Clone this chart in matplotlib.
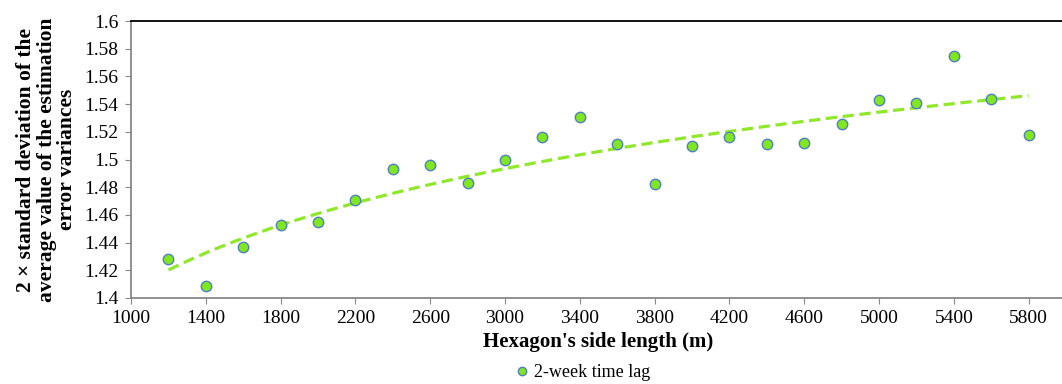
import numpy as np
import matplotlib.pyplot as plt

plt.rcParams['font.family'] = ['Liberation Serif', 'DejaVu Serif']

side_length = [1200, 1400, 1600, 1800, 2000, 2200, 2400, 2600, 2800, 3000, 3200, 3400,
               3600, 3800, 4000, 4200, 4400, 4600, 4800, 5000, 5200, 5400, 5600, 5800]
std_value = [1.428, 1.409, 1.437, 1.453, 1.455, 1.471, 1.493, 1.496, 1.483, 1.500, 1.516, 1.531,
             1.511, 1.482, 1.510, 1.516, 1.511, 1.512, 1.526, 1.543, 1.541, 1.575, 1.544, 1.518]
x_ticks = list(range(1000, 6000, 400))
y_ticks = [1.4, 1.42, 1.44, 1.46, 1.48, 1.5, 1.52, 1.54, 1.56, 1.58, 1.6]

fig = plt.figure(figsize=(10.62, 3.84), dpi=100)
ax = fig.add_axes([0.1234, 0.224, 0.8804, 0.721])

# logarithmic trendline like Excel
x = np.array(side_length, dtype=float)
a, b = np.polyfit(np.log(x), std_value, 1)
xt = np.linspace(x.min(), x.max(), 200)
ax.plot(xt, a * np.log(xt) + b, color='#8fe82a', lw=2.3, dashes=(3.5, 1.8), zorder=2)

ax.plot(side_length, std_value, 'o', ms=7.5, mfc='#7fe620', mec='#4f81bd', mew=1.0,
        label='2-week time lag', zorder=3)

ax.set_xlim(1000, 6000)
ax.set_ylim(1.4, 1.6)
ax.set_xticks(x_ticks)
ax.set_yticks(y_ticks)
ax.set_yticklabels([('%g' % v) for v in y_ticks])
ax.tick_params(labelsize=14, direction='out', length=4, color='#888888', pad=5)

for s in ['left', 'bottom']:
    ax.spines[s].set_color('#888888')
    ax.spines[s].set_linewidth(1.3)
ax.spines['top'].set_color('#000000')
ax.spines['top'].set_linewidth(1.3)
ax.spines['right'].set_visible(False)

ax.set_xlabel("Hexagon's side length (m)", fontsize=15, fontweight='bold', labelpad=3)
ax.set_ylabel('2 × standard deviation of the\naverage value of the estimation\nerror variances',
              fontsize=15.5, fontweight='bold', linespacing=1.05, labelpad=5)

fig.legend(*ax.get_legend_handles_labels(), loc='center', bbox_to_anchor=(0.549, 0.03),
           frameon=False, fontsize=13, handlelength=0.7, handletextpad=0.3,
           markerscale=0.8, borderpad=0)

fig.savefig('out.png', dpi=100)
